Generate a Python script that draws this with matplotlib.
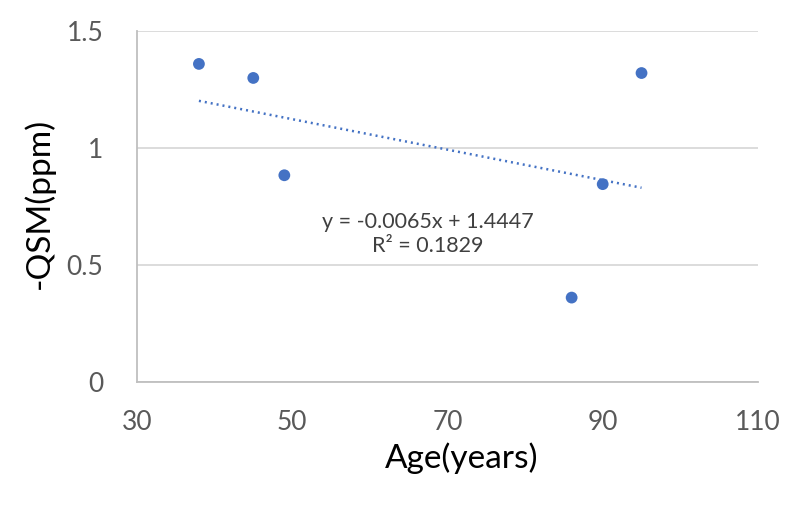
import numpy as np
import matplotlib
matplotlib.use('Agg')
import matplotlib.pyplot as plt

plt.rcParams['font.family'] = ['Lato', 'DejaVu Sans']

# data
age = [38, 45, 49, 86, 90, 95]
qsm = [1.36, 1.30, 0.884, 0.361, 0.846, 1.321]
xticks = [30, 50, 70, 90, 110]
yticks = [0, 0.5, 1, 1.5]
ytick_labels = ['0', '0.5', '1', '1.5']
eq_text = 'y = -0.0065x + 1.4447\nR² = 0.1829'

blue = '#4472C4'

fig = plt.figure(figsize=(8, 5.11), dpi=100)
ax = fig.add_axes([0.171, 0.2524, 0.7765, 0.6866])

# linear trendline over the data range
k, b = np.polyfit(age, qsm, 1)
xs = np.array([min(age), max(age)])
ax.plot(xs, k * xs + b, color=blue, lw=1.8, linestyle=(0, (0.8, 1.6)), zorder=2)

ax.scatter(age, qsm, s=72, color=blue, zorder=3, edgecolors='none')

ax.set_xlim(30, 110)
ax.set_ylim(0, 1.5)
ax.set_xticks(xticks)
ax.set_yticks(yticks)
ax.set_yticklabels(ytick_labels)
ax.tick_params(length=0, labelsize=19, labelcolor='#595959')
ax.tick_params(axis='x', pad=20)
ax.tick_params(axis='y', pad=24)

ax.grid(axis='y', color='#d9d9d9', lw=1.3)
ax.set_axisbelow(True)
for s in ['top', 'right']:
    ax.spines[s].set_visible(False)
for s in ['left', 'bottom']:
    ax.spines[s].set_color('#bfbfbf')
    ax.spines[s].set_linewidth(1.3)

ax.set_xlabel('Age(years)', fontsize=24, color='black', va='center')
ax.xaxis.set_label_coords(0.523, -0.2165)
ax.set_ylabel('-QSM(ppm)', fontsize=24, color='black', va='center')
ax.yaxis.set_label_coords(-0.158, 0.51)

ax.text(67.5, 0.634, eq_text, ha='center', va='center', multialignment='center',
        fontsize=15.5, color='#404040', linespacing=1.25)

fig.savefig('out.png', dpi=100)
